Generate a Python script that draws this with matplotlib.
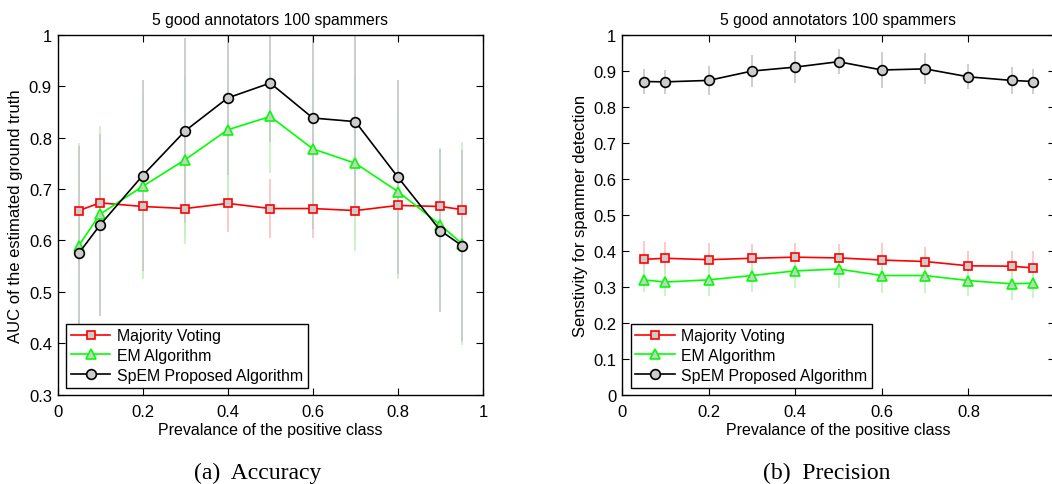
import matplotlib
matplotlib.use('Agg')
import matplotlib.pyplot as plt
from matplotlib.ticker import FuncFormatter, MultipleLocator

# ---------------- data ----------------
prevalence = [0.05, 0.1, 0.2, 0.3, 0.4, 0.5, 0.6, 0.7, 0.8, 0.9, 0.95]
series_names = ['Majority Voting', 'EM Algorithm', 'SpEM Proposed Algorithm']

# (a) Accuracy: AUC of the estimated ground truth
auc_mv = [0.658, 0.673, 0.666, 0.662, 0.672, 0.662, 0.662, 0.658, 0.668, 0.666, 0.660]
auc_mv_err = [0.055, 0.055, 0.055, 0.055, 0.055, 0.058, 0.058, 0.055, 0.055, 0.055, 0.055]
auc_em = [0.590, 0.651, 0.705, 0.757, 0.815, 0.841, 0.778, 0.750, 0.695, 0.630, 0.594]
auc_em_err = [0.200, 0.172, 0.180, 0.164, 0.130, 0.109, 0.150, 0.170, 0.170, 0.150, 0.197]
auc_sp = [0.575, 0.630, 0.726, 0.813, 0.877, 0.906, 0.838, 0.831, 0.723, 0.619, 0.590]
auc_sp_err = [0.208, 0.177, 0.186, 0.180, 0.150, 0.115, 0.216, 0.180, 0.188, 0.159, 0.185]

# (b) Precision: sensitivity for spammer detection
sen_mv = [0.376, 0.379, 0.375, 0.379, 0.382, 0.380, 0.374, 0.370, 0.358, 0.357, 0.352]
sen_mv_err = [0.050, 0.044, 0.046, 0.040, 0.040, 0.040, 0.047, 0.039, 0.040, 0.041, 0.046]
sen_em = [0.319, 0.313, 0.319, 0.331, 0.344, 0.349, 0.331, 0.331, 0.317, 0.308, 0.310]
sen_em_err = [0.035, 0.040, 0.046, 0.047, 0.048, 0.053, 0.048, 0.048, 0.042, 0.044, 0.040]
sen_sp = [0.870, 0.869, 0.873, 0.899, 0.910, 0.925, 0.902, 0.905, 0.883, 0.873, 0.870]
sen_sp_err = [0.036, 0.033, 0.040, 0.044, 0.044, 0.035, 0.050, 0.043, 0.035, 0.037, 0.035]

title_text = '5 good annotators 100 spammers'
xlabel_text = 'Prevalance of the positive class'
ylabel_left = 'AUC of the estimated ground truth'
ylabel_right = 'Senstivity for spammer detection'
captions = ['(a)  Accuracy', '(b)  Precision']

# ---------------- style ----------------
plt.rcParams['font.family'] = ['Liberation Sans', 'DejaVu Sans']
line_colors = ['#ff0000', '#00ff00', '#000000']
err_colors = ['#ffc4c4', '#c4f5c4', '#c8ccc8']
markers = ['s', '^', 'o']
msizes = [5.5, 7, 7]

fig = plt.figure(figsize=(10.52, 4.85), dpi=100)
W, H = 1052.0, 485.0

def make_axes(px_left, px_right, px_top, px_bottom):
    return fig.add_axes([px_left / W, 1 - px_bottom / H,
                         (px_right - px_left) / W, (px_bottom - px_top) / H])

ax1 = make_axes(57.5, 483, 35.7, 395.7)
ax2 = make_axes(622, 1055, 35.7, 395.7)

fmt = FuncFormatter(lambda v, p: ('%g' % round(v, 2)))

def draw(ax, ys, errs, ylim, ylabel):
    # error bars first (behind)
    for y, e, ec in zip(ys, errs, err_colors):
        ax.errorbar(prevalence, y, yerr=e, fmt='none', ecolor=ec,
                    elinewidth=1.3, capsize=0, zorder=1)
    handles = []
    for y, c, m, ms, name in zip(ys, line_colors, markers, msizes, series_names):
        h, = ax.plot(prevalence, y, color=c, lw=1.2, marker=m, ms=ms,
                     mfc='0.8', mec=c, mew=1.2, zorder=3, label=name)
        handles.append(h)
    ax.set_xlim(0, 1)
    ax.set_ylim(*ylim)
    ax.xaxis.set_major_locator(MultipleLocator(0.2))
    ax.yaxis.set_major_locator(MultipleLocator(0.1))
    ax.xaxis.set_major_formatter(fmt)
    ax.yaxis.set_major_formatter(fmt)
    ax.tick_params(direction='in', top=True, right=True, length=5, width=0.8,
                   labelsize=12)
    ax.tick_params(axis='x', pad=6.5)
    ax.tick_params(axis='y', pad=4)
    for sp in ax.spines.values():
        sp.set_linewidth(1.0)
    ax.set_title(title_text, fontsize=11.3, pad=8)
    ax.set_xlabel(xlabel_text, fontsize=11.5)
    ax.set_ylabel(ylabel, fontsize=12)
    leg = ax.legend(handles=handles, loc='lower left', bbox_to_anchor=(0.02, 0.02),
                    fontsize=11.4, frameon=True, fancybox=False, edgecolor='k',
                    framealpha=1, borderpad=0.3, handlelength=2.5,
                    handletextpad=0.4, labelspacing=0.3, borderaxespad=0)
    leg.get_frame().set_linewidth(1.0)
    return ax

draw(ax1, [auc_mv, auc_em, auc_sp], [auc_mv_err, auc_em_err, auc_sp_err],
     (0.3, 1.0), ylabel_left)
draw(ax2, [sen_mv, sen_em, sen_sp], [sen_mv_err, sen_em_err, sen_sp_err],
     (0.0, 1.0), ylabel_right)

ax1.yaxis.set_label_coords(-0.0804, 0.5)
ax2.yaxis.set_label_coords(-0.078, 0.5)
ax1.xaxis.set_label_coords(0.5, -0.075)
ax2.xaxis.set_label_coords(0.5, -0.075)

fig.text(258 / W, 1 - 473 / H, captions[0], ha='center', va='center',
         fontsize=17, family=['Liberation Serif', 'DejaVu Serif'])
fig.text(827 / W, 1 - 473 / H, captions[1], ha='center', va='center',
         fontsize=17, family=['Liberation Serif', 'DejaVu Serif'])

fig.savefig('out.png', dpi=100)
